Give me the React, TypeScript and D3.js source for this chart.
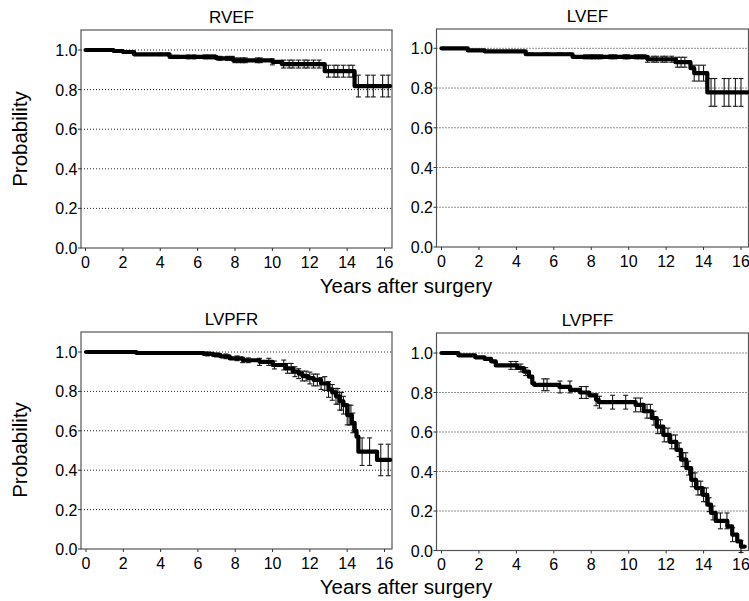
import React, { useEffect, useRef } from "react";
import * as d3 from "d3";

// Kaplan-Meier estimates: step times (years) and survival after each step
const rvefTimes = [0, 1.5, 2.0, 2.6, 4.5, 7.0, 7.9, 10.0, 10.5, 12.8, 14.4];
const rvefSurv = [1.0, 0.995, 0.99, 0.978, 0.965, 0.958, 0.948, 0.94, 0.929, 0.893, 0.818];
const rvefBarTimes = [4.0, 4.4, 4.65, 4.9, 5.5, 5.8, 6.4, 6.6, 6.85, 7.2, 7.6, 7.85, 8.0, 8.2, 8.4, 8.55, 9.2, 9.35, 10.0, 10.6, 10.9, 11.1, 11.4, 11.7, 11.9, 12.2, 12.5, 13.0, 13.3, 13.5, 13.8, 14.1, 14.3, 14.6, 15.1, 15.4, 15.9, 16.2];
const rvefBarHalf = [0.006, 0.006, 0.008, 0.008, 0.01, 0.01, 0.01, 0.01, 0.01, 0.01, 0.01, 0.01, 0.012, 0.012, 0.012, 0.012, 0.012, 0.012, 0.015, 0.02, 0.02, 0.02, 0.02, 0.02, 0.02, 0.02, 0.02, 0.03, 0.03, 0.03, 0.03, 0.03, 0.03, 0.055, 0.055, 0.055, 0.055, 0.055];

const lvefTimes = [0, 1.4, 2.3, 4.5, 7.0, 11.0, 12.5, 13.3, 13.5, 14.2];
const lvefSurv = [1.0, 0.99, 0.985, 0.97, 0.957, 0.945, 0.93, 0.9, 0.875, 0.778];
const lvefBarTimes = [4.6, 4.8, 5.5, 5.65, 6.3, 6.45, 6.8, 7.7, 7.95, 8.1, 8.3, 8.5, 9.05, 9.25, 9.8, 9.95, 10.4, 10.6, 10.8, 11.0, 11.3, 11.5, 11.8, 12.0, 12.3, 12.6, 12.8, 13.0, 13.5, 13.75, 14.0, 14.4, 14.6, 15.1, 15.35, 15.7, 16.0];
const lvefBarHalf = [0.006, 0.006, 0.006, 0.006, 0.006, 0.006, 0.006, 0.01, 0.01, 0.01, 0.01, 0.01, 0.01, 0.01, 0.01, 0.01, 0.01, 0.01, 0.01, 0.015, 0.015, 0.015, 0.015, 0.015, 0.015, 0.025, 0.025, 0.025, 0.04, 0.04, 0.04, 0.07, 0.07, 0.07, 0.07, 0.07, 0.07];

const lvpfrTimes = [0, 2.7, 6.3, 6.8, 7.2, 7.7, 8.4, 9.3, 10.0, 10.7, 11.1, 11.4, 11.6, 11.9, 12.2, 12.6, 13.0, 13.2, 13.4, 13.6, 13.8, 14.0, 14.25, 14.4, 14.5, 14.6, 15.6];
const lvpfrSurv = [1.0, 0.995, 0.99, 0.985, 0.978, 0.968, 0.958, 0.95, 0.934, 0.917, 0.9, 0.89, 0.878, 0.868, 0.858, 0.84, 0.81, 0.795, 0.775, 0.75, 0.73, 0.68, 0.64, 0.6, 0.57, 0.494, 0.452];
const lvpfrBarTimes = [6.5, 7.0, 7.5, 8.1, 8.4, 8.7, 9.3, 9.8, 10.1, 10.6, 10.8, 11.0, 11.2, 11.4, 11.6, 11.8, 12.0, 12.2, 12.4, 12.6, 12.8, 13.0, 13.2, 13.4, 13.5, 13.6, 13.7, 13.8, 14.0, 14.1, 14.2, 14.3, 14.8, 15.2, 15.8, 16.2];
const lvpfrBarHalf = [0.01, 0.01, 0.012, 0.012, 0.012, 0.012, 0.018, 0.018, 0.02, 0.025, 0.025, 0.025, 0.025, 0.025, 0.025, 0.025, 0.03, 0.03, 0.03, 0.03, 0.035, 0.04, 0.04, 0.04, 0.04, 0.045, 0.045, 0.045, 0.05, 0.05, 0.05, 0.05, 0.07, 0.07, 0.08, 0.08];

const lvpffTimes = [0, 0.9, 1.8, 2.3, 2.65, 2.9, 4.06, 4.4, 4.67, 4.85, 4.95, 6.3, 6.87, 7.4, 7.9, 8.26, 8.4, 10.37, 10.8, 11.24, 11.5, 11.85, 12.2, 12.55, 12.8, 13.08, 13.34, 13.6, 13.95, 14.2, 14.4, 14.65, 15.27, 15.53, 15.8, 16.0];
const lvpffSurv = [1.0, 0.988, 0.978, 0.97, 0.958, 0.937, 0.924, 0.906, 0.88, 0.847, 0.839, 0.828, 0.813, 0.8, 0.785, 0.763, 0.751, 0.737, 0.705, 0.67, 0.627, 0.585, 0.55, 0.51, 0.46, 0.417, 0.358, 0.316, 0.282, 0.232, 0.19, 0.15, 0.122, 0.08, 0.046, 0.02];
const lvpffBarTimes = [3.71, 3.98, 4.24, 4.5, 5.46, 5.64, 6.33, 6.86, 7.47, 7.73, 8.26, 8.44, 9.14, 9.84, 10.37, 10.63, 10.98, 11.16, 11.35, 11.55, 11.7, 11.9, 12.1, 12.3, 12.5, 12.7, 12.9, 13.05, 13.2, 13.4, 13.55, 13.7, 13.85, 14.0, 14.15, 14.3, 14.5, 14.9, 15.25, 15.55, 16.0];
const lvpffBarHalf = [0.02, 0.02, 0.02, 0.02, 0.03, 0.03, 0.03, 0.03, 0.03, 0.03, 0.03, 0.03, 0.035, 0.035, 0.035, 0.035, 0.035, 0.035, 0.035, 0.035, 0.035, 0.035, 0.035, 0.035, 0.035, 0.035, 0.035, 0.035, 0.035, 0.035, 0.035, 0.035, 0.035, 0.035, 0.035, 0.035, 0.035, 0.04, 0.04, 0.035, 0.03];

const xTicks = [0, 2, 4, 6, 8, 10, 12, 14, 16];
const yTicks = [0, 0.2, 0.4, 0.6, 0.8, 1.0];

const FONT = "'Liberation Sans', Arial, Helvetica, sans-serif";

// frame box and where 0/16 years and 0/1 probability fall, per panel
const panels = [
  { title: "RVEF", times: rvefTimes, surv: rvefSurv, barT: rvefBarTimes, barH: rvefBarHalf, end: 16.3,
    left: 81, right: 392, top: 30, bottom: 248, x0: 85.5, x16: 384.5, y0: 248, y1: 50 },
  { title: "LVEF", times: lvefTimes, surv: lvefSurv, barT: lvefBarTimes, barH: lvefBarHalf, end: 16.35,
    left: 436.5, right: 748.5, top: 29, bottom: 247, x0: 441.5, x16: 741, y0: 247, y1: 48.3 },
  { title: "LVPFR", times: lvpfrTimes, surv: lvpfrSurv, barT: lvpfrBarTimes, barH: lvpfrBarHalf, end: 16.3,
    left: 81, right: 392, top: 332, bottom: 549, x0: 86, x16: 384.5, y0: 549, y1: 352 },
  { title: "LVPFF", times: lvpffTimes, surv: lvpffSurv, barT: lvpffBarTimes, barH: lvpffBarHalf, end: 16.2,
    left: 436.5, right: 748.5, top: 333, bottom: 550.5, x0: 441.5, x16: 741, y0: 550.5, y1: 353 },
];

function App() {
  const ref = useRef<SVGSVGElement>(null);

  useEffect(() => {
    const svg = d3.select(ref.current);
    svg.selectAll("*").remove();

    panels.forEach((p) => {
      const x = d3.scaleLinear().domain([0, 16]).range([p.x0, p.x16]);
      const y = d3.scaleLinear().domain([0, 1]).range([p.y0, p.y1]);
      const g = svg.append("g");

      // dotted grid lines
      g.selectAll("line.grid")
        .data(yTicks.filter((v) => v > 0))
        .join("line")
        .attr("x1", p.left).attr("x2", p.right)
        .attr("y1", (d) => y(d)).attr("y2", (d) => y(d))
        .attr("stroke", "#222")
        .attr("stroke-width", 1)
        .attr("stroke-dasharray", "1,2");

      // frame
      g.append("rect")
        .attr("x", p.left).attr("y", p.top)
        .attr("width", p.right - p.left).attr("height", p.bottom - p.top)
        .attr("fill", "none")
        .attr("stroke", "#555")
        .attr("stroke-width", 1.2);

      // y ticks + labels
      yTicks.forEach((v) => {
        g.append("line")
          .attr("x1", p.left - 3).attr("x2", p.left)
          .attr("y1", y(v)).attr("y2", y(v))
          .attr("stroke", "#333");
        g.append("text")
          .attr("x", p.left - 3.5).attr("y", y(v) + 6)
          .attr("text-anchor", "end")
          .attr("font-family", FONT).attr("font-size", 16)
          .attr("fill", "#000")
          .text(d3.format(".1f")(v));
      });

      // x ticks + labels
      xTicks.forEach((v) => {
        g.append("line")
          .attr("x1", x(v)).attr("x2", x(v))
          .attr("y1", p.bottom).attr("y2", p.bottom + 3)
          .attr("stroke", "#333");
        g.append("text")
          .attr("x", x(v)).attr("y", p.bottom + 19.5)
          .attr("text-anchor", "middle")
          .attr("font-family", FONT).attr("font-size", 16)
          .attr("fill", "#000")
          .text(v);
      });

      // panel title
      g.append("text")
        .attr("x", (p.left + p.right) / 2 - 5).attr("y", p.top - 7)
        .attr("text-anchor", "middle")
        .attr("font-family", FONT).attr("font-size", 17)
        .attr("fill", "#000")
        .text(p.title);

      // survival step curve
      const pts: [number, number][] = p.times.map((t, i) => [t, p.surv[i]]);
      pts.push([p.end, p.surv[p.surv.length - 1]]);
      const line = d3.line<[number, number]>()
        .x((d) => x(d[0]))
        .y((d) => y(d[1]))
        .curve(d3.curveStepAfter);

      // error bars at censored times
      const survAt = (t: number) => {
        const i = d3.bisectRight(p.times, t) - 1;
        return p.surv[Math.max(0, i)];
      };
      const bars = g.append("g").attr("stroke", "#1a1a1a").attr("stroke-width", 1.1);
      p.barT.forEach((t, i) => {
        const c = survAt(t);
        const lo = y(c - p.barH[i]);
        const hi = y(c + p.barH[i]);
        const cx = x(t);
        bars.append("line").attr("x1", cx).attr("x2", cx).attr("y1", lo).attr("y2", hi);
        bars.append("line").attr("x1", cx - 2.5).attr("x2", cx + 2.5).attr("y1", lo).attr("y2", lo);
        bars.append("line").attr("x1", cx - 2.5).attr("x2", cx + 2.5).attr("y1", hi).attr("y2", hi);
      });

      g.append("path")
        .attr("d", line(pts))
        .attr("fill", "none")
        .attr("stroke", "#000")
        .attr("stroke-width", 4.2)
        .attr("stroke-linejoin", "round")
        .attr("stroke-linecap", "round");
    });

    // shared axis titles
    [293, 594].forEach((yy) => {
      svg.append("text")
        .attr("x", 406).attr("y", yy)
        .attr("text-anchor", "middle")
        .attr("font-family", FONT).attr("font-size", 20.5)
        .attr("fill", "#000")
        .text("Years after surgery");
    });
    [139, 450].forEach((yy) => {
      svg.append("text")
        .attr("transform", `translate(27,${yy}) rotate(-90)`)
        .attr("text-anchor", "middle")
        .attr("font-family", FONT).attr("font-size", 20.5)
        .attr("fill", "#000")
        .text("Probability");
    });
  }, []);

  return (
    <svg
      ref={ref}
      width={749}
      height={601}
      style={{ position: "absolute", left: 0, top: 0, background: "#fff" }}
    />
  );
}

export default App;
